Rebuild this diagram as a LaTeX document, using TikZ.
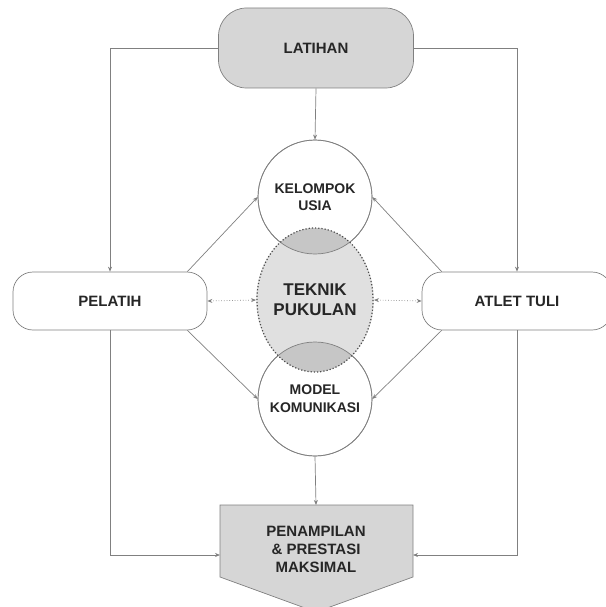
\documentclass[tikz,border=0pt]{standalone}
\usepackage{fontspec}
\setmainfont{Liberation Sans}
\usetikzlibrary{arrows.meta,shapes.geometric}
\definecolor{boxgray}{HTML}{D6D6D6}
\definecolor{midgray}{HTML}{E0E0E0}
\definecolor{lensgray}{HTML}{C6C6C6}
\definecolor{linegray}{HTML}{808080}
\begin{document}
\begin{tikzpicture}[x=1pt,y=-1pt,
  line/.style={draw=linegray,line width=0.7pt},
  arr/.style={line,-{Stealth[length=5pt,width=4pt]}},
  dotarr/.style={line,dotted,{Stealth[length=5pt,width=4pt]}-{Stealth[length=5pt,width=4pt]}},
  txt/.style={font=\fontsize{15}{18}\selectfont\bfseries,text=black!85,align=center},
  pill/.style={txt,draw=linegray,line width=0.7pt,rounded corners=20pt,minimum height=58pt},
  ring/.style={txt,circle,draw=linegray,line width=0.7pt,minimum size=114pt,inner sep=0pt,fill=white}]
\useasboundingbox (0,0) rectangle (605,607);
% boxes
\node[pill,fill=boxgray,rounded corners=28pt,minimum width=195pt,minimum height=80pt] (latihan) at (316,48) {LATIHAN};
\node[pill,minimum width=194pt] (pelatih) at (110,301) {PELATIH};
\node[pill,minimum width=190pt] (atlet) at (517,301) {ATLET TULI};
% circles
\node[ring,font=\fontsize{14}{17}\selectfont\bfseries] (kelompok) at (315,197) {KELOMPOK\\USIA};
\node[ring,font=\fontsize{14}{18}\selectfont\bfseries] (model) at (315,399) {MODEL\\KOMUNIKASI};
\node[txt,ellipse,fill=midgray,minimum width=116pt,minimum height=144pt,inner sep=0pt,
  font=\fontsize{17}{20}\selectfont\bfseries] (teknik) at (315,300) {TEKNIK\\PUKULAN};
\begin{scope}
\clip (teknik.center) ellipse (58 and 72);
\fill[lensgray] (kelompok.center) circle (57);
\fill[lensgray] (model.center) circle (57);
\end{scope}
\draw[line] (kelompok.center) circle (57);
\draw[line] (model.center) circle (57);
\draw[draw=black!70,line width=1.2pt,dotted] (teknik.center) ellipse (58 and 72);
% output
\filldraw[line,fill=boxgray] (220,505) -- (413,505) -- (413,577) -- (316,612) -- (220,577) -- cycle;
\node[txt] (penampilan) at (316,549) {PENAMPILAN\\\& PRESTASI\\MAKSIMAL};
\coordinate (penN) at (316,505);
\coordinate (penW) at (220,555);
\coordinate (penE) at (413,555);
% connectors
\draw[arr] (latihan.west) -| (pelatih.north);
\draw[arr] (latihan.east) -| (atlet.north);
\draw[arr] (latihan.south) -- (kelompok.north);
\draw[arr] ([xshift=-20pt]pelatih.north east) -- (kelompok.west);
\draw[arr] ([xshift=-20pt]pelatih.south east) -- (model.west);
\draw[arr] ([xshift=20pt]atlet.north west) -- (kelompok.east);
\draw[arr] ([xshift=20pt]atlet.south west) -- (model.east);
\draw[dotarr] (pelatih.east) -- (teknik.west);
\draw[dotarr] (atlet.west) -- (teknik.east);
\draw[arr] (model.south) -- (penN);
\draw[arr] (pelatih.south) |- (penW);
\draw[arr] (atlet.south) |- (penE);
\end{tikzpicture}
\end{document}
